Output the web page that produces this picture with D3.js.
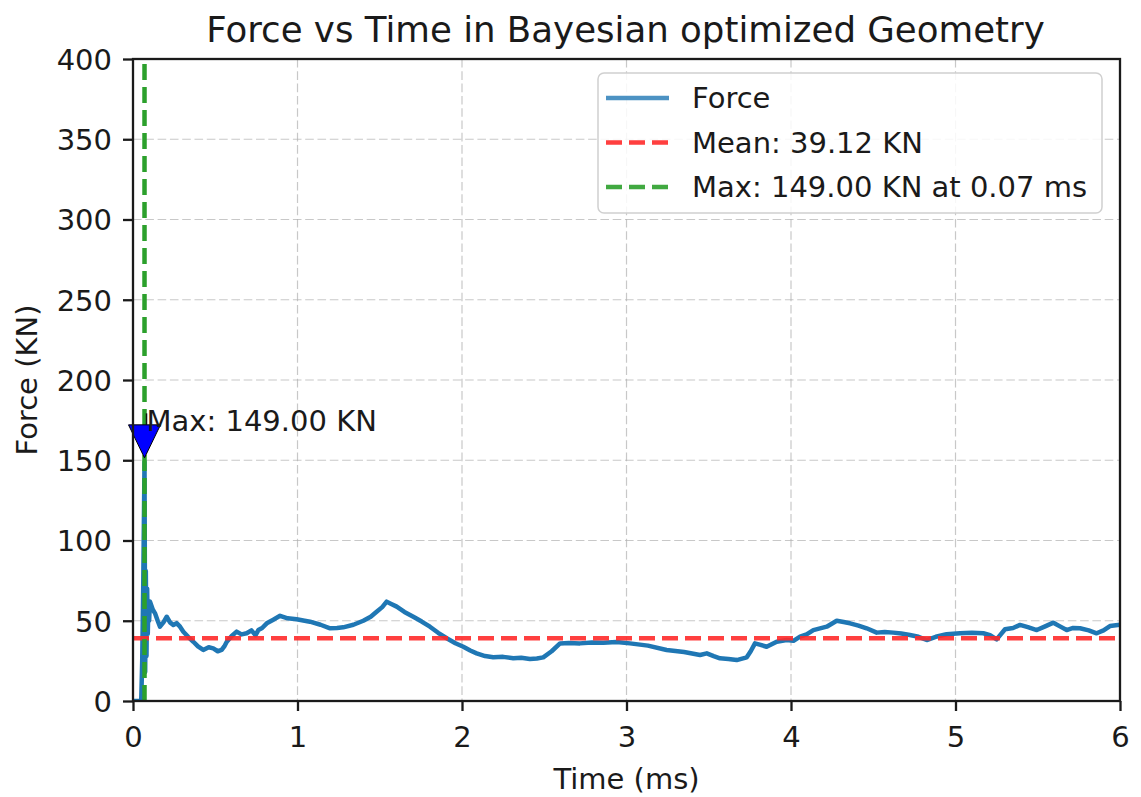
<!DOCTYPE html>
<html>
<head>
<meta charset="utf-8">
<script src="https://cdn.jsdelivr.net/npm/d3@7"></script>
<style>
  html, body { margin: 0; padding: 0; background: #fff; }
  svg text { font-family: "DejaVu Sans", sans-serif; fill: #1a1a1a; }
</style>
</head>
<body>
<svg id="chart" width="1141" height="797"></svg>
<script>
// Force trace (time in ms, force in KN)
const timeMs = [
  0, 0.02, 0.05, 0.056, 0.062, 0.07, 0.074, 0.078, 0.082, 0.086, 0.09, 0.094, 0.098,
  0.103, 0.12, 0.134, 0.15, 0.164, 0.185, 0.205, 0.225, 0.245, 0.265, 0.286, 0.306,
  0.335, 0.367, 0.395, 0.427, 0.46, 0.488, 0.515, 0.539, 0.555, 0.570, 0.60, 0.630,
  0.66, 0.691, 0.72, 0.745, 0.762, 0.785, 0.813, 0.85, 0.894, 0.94, 0.995, 1.035,
  1.076, 1.14, 1.198, 1.24, 1.278, 1.34, 1.400, 1.445, 1.481, 1.515, 1.542, 1.57,
  1.603, 1.65, 1.704, 1.755, 1.805, 1.855, 1.907, 1.96, 2.008, 2.05, 2.089, 2.14,
  2.190, 2.25, 2.312, 2.36, 2.413, 2.455, 2.494, 2.545, 2.596, 2.65, 2.717, 2.79,
  2.859, 2.94, 3.021, 3.13, 3.244, 3.35, 3.447, 3.488, 3.53, 3.568, 3.62, 3.670,
  3.731, 3.755, 3.781, 3.815, 3.852, 3.913, 3.974, 4.015, 4.055, 4.095, 4.136,
  4.217, 4.278, 4.32, 4.359, 4.41, 4.460, 4.521, 4.57, 4.622, 4.67, 4.723, 4.775,
  4.825, 4.88, 4.946, 5.027, 5.10, 5.169, 5.21, 5.250, 5.301, 5.35, 5.392, 5.44,
  5.494, 5.545, 5.595, 5.635, 5.676, 5.715, 5.757, 5.81, 5.858, 5.90, 5.939, 6.0
];
const forceKN = [
  0, 0, 0, 25, 70, 149, 18, 81, 28, 70, 42, 62, 50,
  62, 57, 54.6, 50, 46.3, 49, 52.5, 49, 47.4, 48.5, 46.3, 43.2,
  40, 36.9, 34, 31.8, 33.5, 32.8, 31, 31.8, 34, 36.9, 40.5, 43.2,
  41.5, 42.2, 44, 41, 44.2, 45.5, 48.4, 50.5, 53.1, 51.5, 50.9, 50.2,
  49.4, 47.5, 45.3, 45.5, 45.9, 47.5, 50.0, 52.5, 55.6, 58.5, 61.9, 60.5,
  58.8, 55.5, 52.5, 49.5, 46.3, 42.5, 39.1, 36, 33.8, 31.5, 29.7, 28,
  27.2, 27.5, 26.6, 27, 26.2, 26.5, 27.2, 31, 35.9, 36.2, 35.9, 36.5,
  36.3, 36.8, 35.9, 34.5, 31.8, 30.5, 28.7, 29.7, 28, 26.6, 26.2, 25.5,
  27.2, 31, 35.9, 35, 33.8, 36.9, 38.0, 37.5, 40.1, 41.5, 44.2,
  46.3, 50.0, 49.2, 48.4, 47, 45.3, 42.6, 43, 42.6, 42, 41.1, 40,
  38.0, 40, 41.6, 42.2, 42.5, 42.2, 41, 38.4, 44.7, 45.5, 47.4, 46,
  44.2, 46.5, 48.8, 46.5, 44.2, 45.5, 45.3, 44, 42.2, 44, 46.7, 47.5
];

// Summary values shown in the legend and annotation
const meanForce = 39.12;
const maxForce = 149.00;
const maxTime = 0.07;

// Axis ticks
const xTicks = [0, 1, 2, 3, 4, 5, 6];
const yTicks = [0, 50, 100, 150, 200, 250, 300, 350, 400];

const svg = d3.select("#chart");
const margin = { left: 133, right: 21, top: 59, bottom: 96 };
const W = 1141, H = 797;
const plotW = W - margin.left - margin.right;
const plotH = H - margin.top - margin.bottom;

const x = d3.scaleLinear().domain([0, 6]).range([margin.left, margin.left + plotW]);
const y = d3.scaleLinear().domain([0, 400]).range([margin.top + plotH, margin.top]);

const blue = "#1f77b4", red = "#ff2a2a", green = "#2ca02c";
const lw = 4.5;
const dash = "16,7";

svg.append("defs").append("clipPath").attr("id", "plotClip")
  .append("rect")
  .attr("x", margin.left).attr("y", margin.top)
  .attr("width", plotW).attr("height", plotH);

// Grid
const grid = svg.append("g").attr("class", "grid")
  .attr("stroke", "#b0b0b0").attr("stroke-opacity", 0.7)
  .attr("stroke-width", 1.2).attr("stroke-dasharray", "8.6,3.7");
grid.selectAll("line.gx").data(xTicks).join("line").attr("class", "gx")
  .attr("x1", d => x(d)).attr("x2", d => x(d))
  .attr("y1", margin.top).attr("y2", margin.top + plotH);
grid.selectAll("line.gy").data(yTicks).join("line").attr("class", "gy")
  .attr("y1", d => y(d)).attr("y2", d => y(d))
  .attr("x1", margin.left).attr("x2", margin.left + plotW);

const plot = svg.append("g").attr("clip-path", "url(#plotClip)");

// Force trace
const series = timeMs.map((t, i) => [t, forceKN[i]]);
plot.append("path")
  .datum(series)
  .attr("fill", "none")
  .attr("stroke", blue)
  .attr("stroke-width", lw)
  .attr("stroke-linejoin", "round")
  .attr("stroke-linecap", "butt")
  .attr("d", d3.line().x(d => x(d[0])).y(d => y(d[1])));

// Mean line
plot.append("line")
  .attr("x1", x(0)).attr("x2", x(6))
  .attr("y1", y(meanForce)).attr("y2", y(meanForce))
  .attr("stroke", red).attr("stroke-opacity", 0.9)
  .attr("stroke-width", lw).attr("stroke-dasharray", dash);

// Peak time line
plot.append("line")
  .attr("x1", x(maxTime)).attr("x2", x(maxTime))
  .attr("y1", y(0)).attr("y2", y(400))
  .attr("stroke", green).attr("stroke-width", lw).attr("stroke-dasharray", dash);

// Peak annotation: arrow head pointing at the maximum, label above
const ax = x(maxTime);
const tipY = y(maxForce) - 4;
const headH = 33, headW = 32;
const labelY = y(maxForce + 19);
svg.append("line")
  .attr("x1", ax + 2).attr("x2", ax + 2)
  .attr("y1", labelY - 18).attr("y2", tipY - headH)
  .attr("stroke", "#111").attr("stroke-width", 1.5);
svg.append("path")
  .attr("d", `M${ax - headW / 2},${tipY - headH} L${ax + headW / 2},${tipY - headH} L${ax},${tipY} Z`)
  .attr("fill", "#0000ff").attr("stroke", "#000").attr("stroke-width", 1);
svg.append("text")
  .attr("x", ax + 2).attr("y", labelY)
  .attr("font-size", 29)
  .text(`Max: ${maxForce.toFixed(2)} KN`);

// Frame
svg.append("rect")
  .attr("x", margin.left).attr("y", margin.top)
  .attr("width", plotW).attr("height", plotH)
  .attr("fill", "none").attr("stroke", "#1a1a1a").attr("stroke-width", 2.3);

// Axes
const xAxis = svg.append("g")
  .attr("transform", `translate(0,${margin.top + plotH})`)
  .call(d3.axisBottom(x).tickValues(xTicks).tickSize(10).tickPadding(10).tickFormat(d3.format("d")));
const yAxis = svg.append("g")
  .attr("transform", `translate(${margin.left},0)`)
  .call(d3.axisLeft(y).tickValues(yTicks).tickSize(10).tickPadding(10).tickFormat(d3.format("d")));
[xAxis, yAxis].forEach(g => {
  g.select(".domain").remove();
  g.selectAll(".tick line").attr("stroke", "#1a1a1a").attr("stroke-width", 2.3);
  g.selectAll(".tick text").attr("font-size", 29).attr("fill", "#1a1a1a")
    .attr("font-family", "DejaVu Sans, sans-serif");
});
xAxis.selectAll(".tick text").attr("dy", null).attr("y", 46);
yAxis.selectAll(".tick text").attr("dy", "0.36em").attr("x", -21);

// Titles
svg.append("text")
  .attr("x", margin.left + plotW / 2 - 1).attr("y", 42)
  .attr("text-anchor", "middle").attr("font-size", 35.6)
  .text("Force vs Time in Bayesian optimized Geometry");
svg.append("text")
  .attr("x", margin.left + plotW / 2).attr("y", 789)
  .attr("text-anchor", "middle").attr("font-size", 29)
  .text("Time (ms)");
svg.append("text")
  .attr("transform", `translate(37,${margin.top + plotH / 2}) rotate(-90)`)
  .attr("text-anchor", "middle").attr("font-size", 29)
  .text("Force (KN)");

// Legend
const legendItems = [
  { label: "Force", color: blue, dash: null },
  { label: `Mean: ${meanForce.toFixed(2)} KN`, color: red, dash: dash },
  { label: `Max: ${maxForce.toFixed(2)} KN at ${maxTime.toFixed(2)} ms`, color: green, dash: dash }
];
const lg = svg.append("g").attr("transform", "translate(598,73)");
lg.append("rect")
  .attr("width", 504).attr("height", 140).attr("rx", 6).attr("ry", 6)
  .attr("fill", "#fff").attr("fill-opacity", 0.85)
  .attr("stroke", "#d0d0d0").attr("stroke-width", 1.5);
const rows = lg.selectAll("g.row").data(legendItems).join("g")
  .attr("class", "row")
  .attr("transform", (d, i) => `translate(0,${25 + i * 44.5})`);
rows.append("line")
  .attr("x1", 8).attr("x2", 71)
  .attr("stroke", d => d.color).attr("stroke-width", lw)
  .attr("stroke-opacity", d => d.dash ? 0.9 : 0.8)
  .attr("stroke-dasharray", d => d.dash);
rows.append("text")
  .attr("x", 94).attr("dy", "0.36em").attr("font-size", 29)
  .text(d => d.label);
</script>
</body>
</html>
